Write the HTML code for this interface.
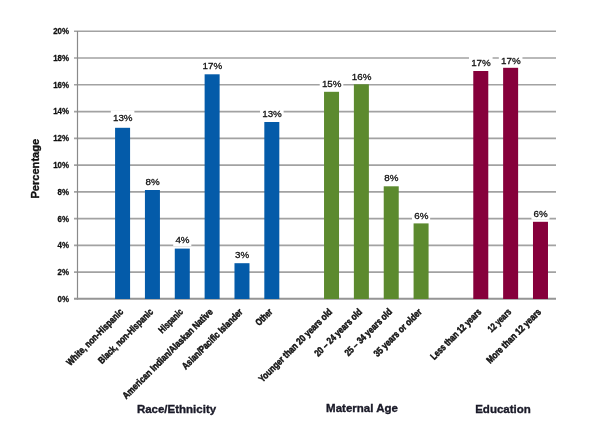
<!DOCTYPE html><html><head><meta charset="utf-8"><style>html,body{margin:0;padding:0;background:#fff;width:600px;height:443px;overflow:hidden}svg{display:block;will-change:transform}text{font-family:"Liberation Sans",sans-serif}</style></head><body>
<svg width="600" height="443" viewBox="0 0 600 443">
<line x1="74" y1="31.30" x2="556" y2="31.30" stroke="#a2a2a2" stroke-width="1.6"/>
<g transform="translate(69,34.20) scale(0.88,1)"><text font-size="9" font-weight="bold" text-anchor="end" fill="#111" stroke="#111" stroke-width="0.3">20%</text></g>
<line x1="74" y1="58.06" x2="556" y2="58.06" stroke="#a2a2a2" stroke-width="1.6"/>
<g transform="translate(69,60.96) scale(0.88,1)"><text font-size="9" font-weight="bold" text-anchor="end" fill="#111" stroke="#111" stroke-width="0.3">18%</text></g>
<line x1="74" y1="84.82" x2="556" y2="84.82" stroke="#a2a2a2" stroke-width="1.6"/>
<g transform="translate(69,87.72) scale(0.88,1)"><text font-size="9" font-weight="bold" text-anchor="end" fill="#111" stroke="#111" stroke-width="0.3">16%</text></g>
<line x1="74" y1="111.58" x2="556" y2="111.58" stroke="#a2a2a2" stroke-width="1.6"/>
<g transform="translate(69,114.48) scale(0.88,1)"><text font-size="9" font-weight="bold" text-anchor="end" fill="#111" stroke="#111" stroke-width="0.3">14%</text></g>
<line x1="74" y1="138.34" x2="556" y2="138.34" stroke="#a2a2a2" stroke-width="1.6"/>
<g transform="translate(69,141.24) scale(0.88,1)"><text font-size="9" font-weight="bold" text-anchor="end" fill="#111" stroke="#111" stroke-width="0.3">12%</text></g>
<line x1="74" y1="165.10" x2="556" y2="165.10" stroke="#a2a2a2" stroke-width="1.6"/>
<g transform="translate(69,168.00) scale(0.88,1)"><text font-size="9" font-weight="bold" text-anchor="end" fill="#111" stroke="#111" stroke-width="0.3">10%</text></g>
<line x1="74" y1="191.86" x2="556" y2="191.86" stroke="#a2a2a2" stroke-width="1.6"/>
<g transform="translate(69,194.76) scale(0.88,1)"><text font-size="9" font-weight="bold" text-anchor="end" fill="#111" stroke="#111" stroke-width="0.3">8%</text></g>
<line x1="74" y1="218.62" x2="556" y2="218.62" stroke="#a2a2a2" stroke-width="1.6"/>
<g transform="translate(69,221.52) scale(0.88,1)"><text font-size="9" font-weight="bold" text-anchor="end" fill="#111" stroke="#111" stroke-width="0.3">6%</text></g>
<line x1="74" y1="245.38" x2="556" y2="245.38" stroke="#a2a2a2" stroke-width="1.6"/>
<g transform="translate(69,248.28) scale(0.88,1)"><text font-size="9" font-weight="bold" text-anchor="end" fill="#111" stroke="#111" stroke-width="0.3">4%</text></g>
<line x1="74" y1="272.14" x2="556" y2="272.14" stroke="#a2a2a2" stroke-width="1.6"/>
<g transform="translate(69,275.04) scale(0.88,1)"><text font-size="9" font-weight="bold" text-anchor="end" fill="#111" stroke="#111" stroke-width="0.3">2%</text></g>
<line x1="74" y1="298.90" x2="556" y2="298.90" stroke="#a2a2a2" stroke-width="1.6"/>
<g transform="translate(69,301.80) scale(0.88,1)"><text font-size="9" font-weight="bold" text-anchor="end" fill="#111" stroke="#111" stroke-width="0.3">0%</text></g>
<line x1="77.5" y1="31" x2="77.5" y2="299.5" stroke="#8a8a8a" stroke-width="1.2"/>
<line x1="74" y1="298.5" x2="556" y2="298.5" stroke="#959595" stroke-width="1.5"/>
<rect x="115.08" y="127.80" width="15" height="171.20" fill="#045ba9"/>
<rect x="110.78" y="110.30" width="23.6" height="14" fill="#fff"/>
<text x="122.78" y="121.20" font-size="9.8" text-anchor="middle" fill="#111" stroke="#111" stroke-width="0.3">13%</text>
<rect x="144.93" y="190.00" width="15" height="109.00" fill="#045ba9"/>
<rect x="143.38" y="174.30" width="18.1" height="14" fill="#fff"/>
<text x="152.62" y="185.20" font-size="9.8" text-anchor="middle" fill="#111" stroke="#111" stroke-width="0.3">8%</text>
<rect x="174.78" y="248.60" width="15" height="50.40" fill="#045ba9"/>
<rect x="173.22" y="232.00" width="18.1" height="14" fill="#fff"/>
<text x="182.47" y="242.90" font-size="9.8" text-anchor="middle" fill="#111" stroke="#111" stroke-width="0.3">4%</text>
<rect x="204.62" y="74.30" width="15" height="224.70" fill="#045ba9"/>
<rect x="200.32" y="59.10" width="23.6" height="14" fill="#fff"/>
<text x="212.32" y="68.90" font-size="9.8" text-anchor="middle" fill="#111" stroke="#111" stroke-width="0.3">17%</text>
<rect x="234.48" y="263.20" width="15" height="35.80" fill="#045ba9"/>
<rect x="232.93" y="247.40" width="18.1" height="14" fill="#fff"/>
<text x="242.18" y="258.30" font-size="9.8" text-anchor="middle" fill="#111" stroke="#111" stroke-width="0.3">3%</text>
<rect x="264.32" y="122.00" width="15" height="177.00" fill="#045ba9"/>
<rect x="260.02" y="105.70" width="23.6" height="14" fill="#fff"/>
<text x="272.02" y="116.60" font-size="9.8" text-anchor="middle" fill="#111" stroke="#111" stroke-width="0.3">13%</text>
<rect x="324.03" y="91.80" width="15" height="207.20" fill="#5c8a2e"/>
<rect x="319.73" y="76.20" width="23.6" height="14" fill="#fff"/>
<text x="331.73" y="87.10" font-size="9.8" text-anchor="middle" fill="#111" stroke="#111" stroke-width="0.3">15%</text>
<rect x="353.88" y="84.30" width="15" height="214.70" fill="#5c8a2e"/>
<rect x="349.57" y="69.00" width="23.6" height="14" fill="#fff"/>
<text x="361.57" y="79.90" font-size="9.8" text-anchor="middle" fill="#111" stroke="#111" stroke-width="0.3">16%</text>
<rect x="383.73" y="186.30" width="15" height="112.70" fill="#5c8a2e"/>
<rect x="382.18" y="170.00" width="18.1" height="14" fill="#fff"/>
<text x="391.43" y="180.90" font-size="9.8" text-anchor="middle" fill="#111" stroke="#111" stroke-width="0.3">8%</text>
<rect x="413.58" y="223.40" width="15" height="75.60" fill="#5c8a2e"/>
<rect x="412.03" y="207.70" width="18.1" height="14" fill="#fff"/>
<text x="421.28" y="218.60" font-size="9.8" text-anchor="middle" fill="#111" stroke="#111" stroke-width="0.3">6%</text>
<rect x="473.28" y="71.00" width="15" height="228.00" fill="#86003b"/>
<rect x="468.98" y="55.30" width="23.6" height="14" fill="#fff"/>
<text x="480.98" y="66.20" font-size="9.8" text-anchor="middle" fill="#111" stroke="#111" stroke-width="0.3">17%</text>
<rect x="503.13" y="67.80" width="15" height="231.20" fill="#86003b"/>
<rect x="498.83" y="52.70" width="23.6" height="14" fill="#fff"/>
<text x="510.83" y="63.60" font-size="9.8" text-anchor="middle" fill="#111" stroke="#111" stroke-width="0.3">17%</text>
<rect x="532.98" y="221.80" width="15" height="77.20" fill="#86003b"/>
<rect x="531.43" y="205.70" width="18.1" height="14" fill="#fff"/>
<text x="540.68" y="216.60" font-size="9.8" text-anchor="middle" fill="#111" stroke="#111" stroke-width="0.3">6%</text>
<g transform="translate(123.88,312.5) rotate(-45) scale(0.8241,1)"><text font-size="9.6" font-weight="bold" text-anchor="end" fill="#111" stroke="#111" stroke-width="0.5">White, non-Hispanic</text></g>
<g transform="translate(153.73,312.5) rotate(-45) scale(0.7969,1)"><text font-size="9.6" font-weight="bold" text-anchor="end" fill="#111" stroke="#111" stroke-width="0.5">Black, non-Hispanic</text></g>
<g transform="translate(183.58,312.5) rotate(-45) scale(0.7526,1)"><text font-size="9.6" font-weight="bold" text-anchor="end" fill="#111" stroke="#111" stroke-width="0.5">Hispanic</text></g>
<g transform="translate(213.43,312.5) rotate(-45) scale(0.8475,1)"><text font-size="9.6" font-weight="bold" text-anchor="end" fill="#111" stroke="#111" stroke-width="0.5">American Indian/Alaskan Native</text></g>
<g transform="translate(243.28,312.5) rotate(-45) scale(0.8194,1)"><text font-size="9.6" font-weight="bold" text-anchor="end" fill="#111" stroke="#111" stroke-width="0.5">Asian/Pacific Islander</text></g>
<g transform="translate(273.12,312.5) rotate(-45) scale(0.7619,1)"><text font-size="9.6" font-weight="bold" text-anchor="end" fill="#111" stroke="#111" stroke-width="0.5">Other</text></g>
<g transform="translate(332.83,312.5) rotate(-45) scale(0.8349,1)"><text font-size="9.6" font-weight="bold" text-anchor="end" fill="#111" stroke="#111" stroke-width="0.5">Younger than 20 years old</text></g>
<g transform="translate(362.68,312.5) rotate(-45) scale(0.819,1)"><text font-size="9.6" font-weight="bold" text-anchor="end" fill="#111" stroke="#111" stroke-width="0.5">20 – 24 years old</text></g>
<g transform="translate(392.53,312.5) rotate(-45) scale(0.8125,1)"><text font-size="9.6" font-weight="bold" text-anchor="end" fill="#111" stroke="#111" stroke-width="0.5">25 – 34 years old</text></g>
<g transform="translate(422.38,312.5) rotate(-45) scale(0.8264,1)"><text font-size="9.6" font-weight="bold" text-anchor="end" fill="#111" stroke="#111" stroke-width="0.5">35 years or older</text></g>
<g transform="translate(482.08,312.5) rotate(-45) scale(0.787,1)"><text font-size="9.6" font-weight="bold" text-anchor="end" fill="#111" stroke="#111" stroke-width="0.5">Less than 12 years</text></g>
<g transform="translate(511.93,312.5) rotate(-45) scale(0.7482,1)"><text font-size="9.6" font-weight="bold" text-anchor="end" fill="#111" stroke="#111" stroke-width="0.5">12 years</text></g>
<g transform="translate(541.77,312.5) rotate(-45) scale(0.8391,1)"><text font-size="9.6" font-weight="bold" text-anchor="end" fill="#111" stroke="#111" stroke-width="0.5">More than 12 years</text></g>
<text x="176.5" y="413" font-size="11.5" font-weight="bold" text-anchor="middle" fill="#1a1a28" stroke="#1a1a28" stroke-width="0.35">Race/Ethnicity</text>
<text x="362" y="412" font-size="11.5" font-weight="bold" text-anchor="middle" fill="#1a1a28" stroke="#1a1a28" stroke-width="0.35">Maternal Age</text>
<text x="503" y="412.5" font-size="11.5" font-weight="bold" text-anchor="middle" fill="#1a1a28" stroke="#1a1a28" stroke-width="0.35">Education</text>
<text transform="translate(38.9,168.7) rotate(-90) scale(0.965,1)" font-size="11.5" font-weight="bold" text-anchor="middle" fill="#111" stroke="#111" stroke-width="0.35">Percentage</text>
</svg></body></html>
